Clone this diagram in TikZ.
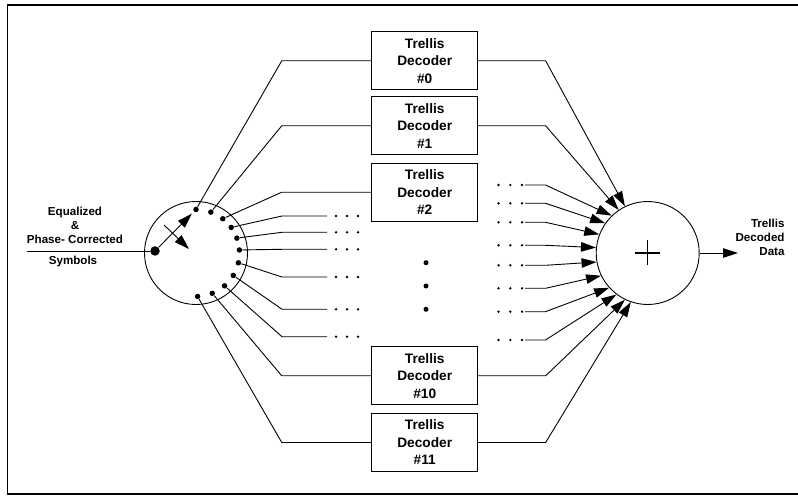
\documentclass[tikz,border=0pt]{standalone}
\usepackage{fontspec}
\setmainfont{Liberation Sans}
\usetikzlibrary{arrows.meta,calc}

\begin{document}
\begin{tikzpicture}[x=1bp,y=-1bp,line width=0.9pt,
    decoder/.style={draw,minimum width=106bp,minimum height=58bp,inner sep=0pt,align=center,
      font=\bfseries\fontsize{13.7bp}{17.5bp}\selectfont},
    lbl/.style={inner sep=0pt,font=\bfseries\fontsize{11.6bp}{14bp}\selectfont},
    contact/.style={circle,fill,inner sep=0pt,minimum size=5.5bp},
    arr/.style={-{Triangle[length=15bp,width=9.5bp]}}]
    \useasboundingbox (0,0) rectangle (798,496);
    \draw[line width=1.5pt] (798,5) -- (7.5,5) -- (7.5,494) -- (798,494);

    % input and switch
    \node[lbl,align=center] (eqlbl) at (75,225) {Equalized\\\&\\Phase- Corrected};
    \node[lbl] (symlbl) at (73,261.7) {Symbols};
    \node[contact,minimum size=9.5bp] (in) at (155,251) {};
    \coordinate (src) at (27,251);
    \draw (src) -- (in);
    \node[circle,draw,minimum size=103bp,inner sep=0pt] (sw) at (196,253) {};
    \foreach \a [count=\i] in {90,70,52,36,20,4,-13,-31,-49,-68,-88}
        \node[contact] (c\i) at ($(sw)+(\a:43.5bp)$) {};
    \draw[arr] (in) -- ($(in)!0.9!(c1)$);
    \coordinate (swa) at (164,225);
    \coordinate (swb) at (189,249);
    \draw[arr] (swa) -- (swb);

    % decoders
    \node[decoder] (d0) at (424.7,60.8) {Trellis\\Decoder\\\#0};
    \node[decoder] (d1) at (424.7,125.8) {Trellis\\Decoder\\\#1};
    \node[decoder] (d2) at (424.7,192.2) {Trellis\\Decoder\\\#2};
    \node[decoder] (d10) at (424.7,375.8) {Trellis\\Decoder\\\#10};
    \node[decoder] (d11) at (424.7,442.5) {Trellis\\Decoder\\\#11};
    \foreach \y [count=\i] in {262.7,286,309.3}
        \node[contact,minimum size=5bp] (vd\i) at (426,\y) {};

    % switch to decoders
    \foreach \c/\d in {1/0,2/1,3/2,10/10,11/11}
        \draw (c\c) -- ([xshift=-89.5bp]d\d.west) -- (d\d.west);
    \foreach \c/\y in {4/216,5/232.3,6/249.3,7/277,8/309.3,9/336.7} {
        \coordinate (le\c) at (327,\y);
        \draw (c\c) -- (282,\y) -- (le\c);
        \foreach \dx in {9,20,31}
            \fill ([xshift=\dx bp]le\c) circle (1.3bp);
    }

    % adder
    \node[circle,draw,minimum size=103bp,inner sep=0pt] (add) at (647.7,253) {};
    \draw[line width=1.5pt] ([xshift=-12.5bp]add.center) -- ([xshift=12.5bp]add.center)
        ([yshift=-12.5bp]add.center) -- ([yshift=12.5bp]add.center);
    \foreach \d/\a in {0/116,1/124,10/244,11/251}
        \draw[arr] (d\d.east) -- ([xshift=67.5bp]d\d.east) -- (add.\a);
    \foreach \y/\a [count=\i] in {185/134,203.3/145,222.3/159,245.3/174,265.3/190,288.3/206,311.7/222,340/233} {
        \coordinate (re\i) at (525,\y);
        \foreach \dx in {-26.5,-14.7,-3}
            \fill ([xshift=\dx bp]re\i) circle (1.3bp);
        \draw[arr] (re\i) -- (545.5,\y) -- (add.\a);
    }

    % output
    \coordinate (outtip) at (738,253);
    \draw[arr] (add.east) -- (outtip);
    \node[lbl,align=right,anchor=east] (outlbl) at (785,237.7) {Trellis\\Decoded\\Data};
\end{tikzpicture}
\end{document}
